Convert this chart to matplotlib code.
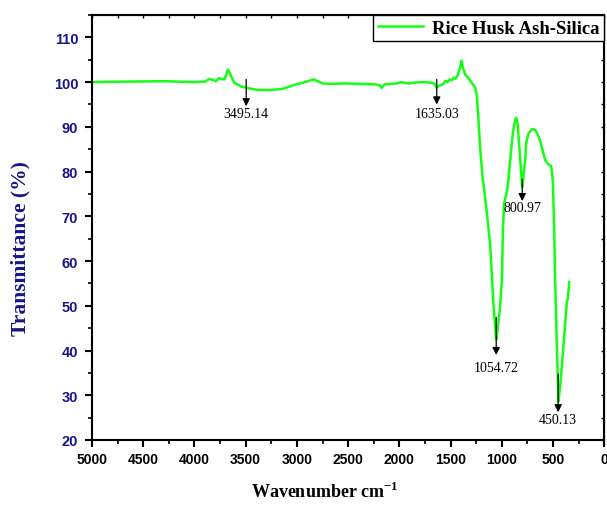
import matplotlib
matplotlib.use('Agg')
import matplotlib.pyplot as plt
from matplotlib.ticker import MultipleLocator

# FTIR spectrum
wavenumber = [5000, 4700, 4300, 4000, 3900, 3854, 3820, 3789, 3760, 3740, 3708,
              3690, 3675, 3655, 3642, 3610, 3529, 3398, 3268, 3138, 3007, 2920,
              2838, 2747, 2681, 2518, 2258, 2200, 2176, 2144, 2080, 2029, 1980,
              1940, 1899, 1850, 1769, 1703, 1660, 1640, 1610, 1574, 1550, 1530,
              1510, 1490, 1470, 1450, 1427, 1405, 1394, 1380, 1357, 1320, 1292,
              1260, 1243, 1230, 1211, 1185, 1179, 1146, 1113, 1081, 1065, 1055,
              1045, 1020, 999, 989, 977, 950, 935, 918, 892, 870, 859, 845, 837,
              820, 801, 794, 780, 771, 762, 740, 723, 700, 674, 650, 625, 576,
              544, 518, 501, 490, 479, 462, 447, 433, 413, 381, 364, 356, 354,
              348, 342]
transmittance = [100.0, 100.1, 100.2, 100.0, 100.1, 100.7, 100.5, 100.2, 100.9,
                 100.7, 100.6, 101.6, 102.8, 102.0, 101.3, 99.8, 98.9, 98.3, 98.2,
                 98.5, 99.5, 100.0, 100.6, 99.7, 99.6, 99.7, 99.5, 99.4, 98.7,
                 99.5, 99.6, 99.7, 100.0, 99.8, 99.7, 99.9, 100.0, 99.9, 99.7,
                 98.8, 99.2, 99.5, 100.3, 100.0, 100.6, 100.4, 101.0, 100.8,
                 101.7, 103.5, 104.8, 103.2, 101.7, 100.7, 99.8, 98.8, 96.9, 92.4,
                 85.0, 78.0, 77.2, 70.8, 63.4, 50.0, 45.5, 42.4, 44.0, 49.0, 55.9,
                 67.1, 73.0, 75.6, 78.3, 82.7, 88.7, 91.5, 92.0, 90.5, 87.9, 82.7,
                 76.5, 77.6, 81.0, 82.7, 86.5, 88.5, 89.0, 89.5, 89.3, 88.3, 86.8,
                 82.5, 81.6, 81.2, 77.6, 68.0, 55.3, 40.3, 28.6, 31.5, 36.6, 46.3,
                 51.1, 51.5, 52.2, 53.7, 55.3]

# marked peaks: (position, arrow start, arrow tip, label y)
peak_labels = ['3495.14', '1635.03', '1054.72', '800.97', '450.13']
peak_pos = [3495.14, 1635.03, 1054.72, 800.97, 450.13]
arrow_from = [100.6, 100.6, 47.4, 78.3, 34.7]
arrow_to = [94.6, 95.0, 39.0, 73.4, 26.2]
label_y = [92.9, 92.9, 36.3, 71.9, 24.6]

navy = '#16168a'
serif = 'Liberation Serif'
sans = 'Liberation Sans'

fig = plt.figure(figsize=(6.07, 5.06), dpi=100)
ax = fig.add_axes([0.1516, 0.1285, 0.8439, 0.8399])

ax.plot(wavenumber, transmittance, color='#14ff14', lw=1.8, label='Rice Husk Ash-Silica')

for lab, x, y0, y1, yl in zip(peak_labels, peak_pos, arrow_from, arrow_to, label_y):
    ax.annotate('', xy=(x, y1), xytext=(x, y0),
                arrowprops=dict(arrowstyle='-|>', color='black', lw=0.9,
                                mutation_scale=11, shrinkA=0, shrinkB=0))
    ax.text(x, yl, lab, ha='center', va='center', fontsize=10, family=serif)

ax.set_xlim(5000, 0)
ax.set_ylim(20, 115)
ax.xaxis.set_major_locator(MultipleLocator(500))
ax.xaxis.set_minor_locator(MultipleLocator(250))
ax.yaxis.set_major_locator(MultipleLocator(10))
ax.yaxis.set_minor_locator(MultipleLocator(5))
ax.set_yticks(range(20, 111, 10))

for s in ax.spines.values():
    s.set_linewidth(1.5)

ax.tick_params(which='major', direction='out', length=5, width=1.5)
ax.tick_params(which='minor', direction='out', length=3, width=1.2)
ax.tick_params(axis='x', labelsize=10, pad=4)
ax.tick_params(axis='y', labelsize=10.5, labelcolor=navy, pad=5)
for t in ax.get_xticklabels() + ax.get_yticklabels():
    t.set_family(sans)
    t.set_fontweight('bold')

# small inner ticks on top and right
top = ax.secondary_xaxis('top')
top.xaxis.set_major_locator(MultipleLocator(500))
top.xaxis.set_minor_locator(MultipleLocator(250))
top.tick_params(which='both', direction='in', length=2, width=1, labeltop=False)
right = ax.secondary_yaxis('right')
right.yaxis.set_major_locator(MultipleLocator(10))
right.yaxis.set_minor_locator(MultipleLocator(5))
right.tick_params(which='both', direction='in', length=2, width=1, labelright=False)

ax.set_xlabel('Wavenumber cm$^{\\mathregular{-1}}$', fontsize=13, fontweight='bold',
              family=serif, va='center')
ax.xaxis.set_label_coords(0.455, -0.12)
ax.set_ylabel('Transmittance (%)', fontsize=15.5, fontweight='bold', family=serif,
              color=navy, va='center')
ax.yaxis.set_label_coords(-0.139, 0.452)

leg = ax.legend(loc='upper right', borderaxespad=0, fancybox=False,
                framealpha=1, edgecolor='black', handlelength=2.4,
                borderpad=0.25, handletextpad=0.5,
                prop={'family': serif, 'weight': 'bold', 'size': 13.5})
leg.get_frame().set_linewidth(1.0)

fig.savefig('out.png', dpi=100)
